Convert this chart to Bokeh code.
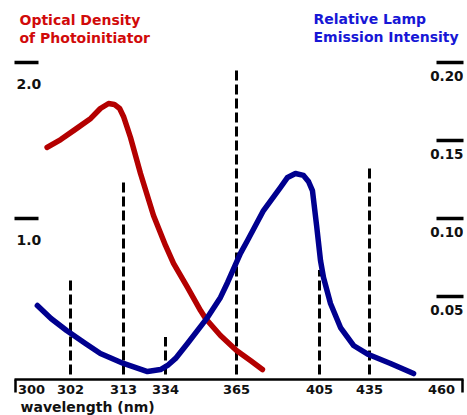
import numpy as np
from bokeh.plotting import figure
from bokeh.models import Range1d, LinearAxis, FixedTicker, Title
from bokeh.core.properties import value
from bokeh.embed import file_html
from bokeh.resources import INLINE

# ---------------- data ----------------
WAVELENGTH_TICKS = [300, 302, 313, 334, 365, 405, 435, 460]
WAVELENGTH_LABELS = ["300", "302", "313", "334", "365", "405", "435", "460"]

# mercury lamp emission lines (relative lamp emission intensity)
LAMP_NM = [302, 313, 334, 365, 405, 435]
LAMP_INTENSITY = [0.062, 0.124, 0.024, 0.195, 0.067, 0.132]

# optical density of the photoinitiator
OD_NM = [300.8, 301.5, 303.0, 306.2, 308.2, 309.9, 311.1, 312.2, 313.0, 315.0, 316.5,
         321.5, 328.0, 334.0, 337.5, 343.6, 349.3, 351.5, 358.0, 365.0, 371.7, 377.5]
OD = [1.455, 1.506, 1.571, 1.641, 1.705, 1.737, 1.731, 1.705, 1.654, 1.577, 1.519,
      1.288, 1.019, 0.827, 0.712, 0.558, 0.410, 0.359, 0.250, 0.154, 0.090, 0.032]

# relative lamp emission intensity (continuous curve)
EMIT_NM = [300.3, 301.0, 301.8, 305.1, 308.2, 313.0, 325.0, 331.5, 334.9, 338.4, 343.6,
           352.3, 358.0, 361.1, 366.9, 370.3, 378.0, 386.2, 389.6, 393.4, 397.3, 399.7,
           401.6, 403.6, 405.6, 407.4, 411.6, 417.6, 425.4, 434.4, 442.3, 450.3]
EMIT = [0.0442, 0.0359, 0.0282, 0.0199, 0.0135, 0.0071, 0.0019, 0.0032, 0.0058, 0.0103, 0.0199,
        0.0365, 0.0494, 0.0590, 0.0776, 0.0859, 0.1051, 0.1199, 0.1263, 0.1288, 0.1276, 0.1237,
        0.1179, 0.0955, 0.0731, 0.0622, 0.0455, 0.0301, 0.0186, 0.0128, 0.0071, 0.0006]

OD_TICKS = [1.0, 2.0]
OD_TICK_LABELS = ["1.0", "2.0"]
LAMP_TICKS = [0.05, 0.10, 0.15, 0.20]
LAMP_TICK_LABELS = ["0.05", "0.10", "0.15", "0.20"]

# ---------------- layout ----------------
# the wavelength axis is drawn non-uniformly: each labelled wavelength has its own axis position
AXIS_POS = [31, 70, 123, 165, 236, 319, 369, 441]


def warp(nm):
    return np.interp(np.asarray(nm, dtype=float), WAVELENGTH_TICKS, AXIS_POS)


FONT = "DejaVu Sans"
RED_TITLE = "#d10a0a"
BLUE_TITLE = "#1717d6"
RED_LINE = "#b40000"
BLUE_LINE = "#00008f"
INK = "#111111"

X0, X1 = 14, 463
p = figure(width=467, height=415,
           x_range=Range1d(X0, X1), y_range=Range1d(-0.032, 2.397),
           output_backend="svg", toolbar_location=None,
           min_border_left=14, min_border_right=4, min_border_top=0, min_border_bottom=36)
p.extra_y_ranges = {"lamp": Range1d(-0.0032, 0.2397)}
p.xgrid.visible = False
p.ygrid.visible = False
p.outline_line_color = None
p.background_fill_color = "white"
p.border_fill_color = "white"

# x axis
xa = p.xaxis[0]
tick_pos = [float(v) for v in warp(WAVELENGTH_TICKS)]
xa.ticker = FixedTicker(ticks=tick_pos, minor_ticks=[X0 + 0.6, X1 - 0.6])
xa.major_label_overrides = {t: lab for t, lab in zip(tick_pos, WAVELENGTH_LABELS)}
xa.major_tick_in = 0
xa.major_tick_out = 0
xa.minor_tick_in = 0
xa.minor_tick_out = 13
xa.minor_tick_line_width = 2.5
xa.minor_tick_line_color = "black"
xa.axis_line_width = 2.5
xa.axis_line_color = "black"
xa.major_label_standoff = -8
xa.major_label_text_font = FONT
xa.major_label_text_font_style = "bold"
xa.major_label_text_font_size = "13px"
xa.major_label_text_color = INK

# axis title, left aligned under the axis
p.add_layout(Title(text="wavelength (nm)", align="left", offset=6, standoff=0,
                   text_font=FONT, text_font_style="bold", text_font_size="14px",
                   text_color=INK), "below")

# left axis: optical density (tick bars only, labels drawn under the bars)
ya = p.yaxis[0]
ya.ticker = FixedTicker(ticks=OD_TICKS)
ya.major_tick_in = 24
ya.major_tick_out = 0
ya.major_tick_line_width = 3.5
ya.major_tick_line_color = "black"
ya.axis_line_color = None
ya.major_label_standoff = 0
ya.major_label_overrides = {t: "" for t in OD_TICKS}

# right axis: relative lamp emission intensity
ra = LinearAxis(y_range_name="lamp", ticker=FixedTicker(ticks=LAMP_TICKS))
ra.major_tick_in = 27
ra.major_tick_out = 0
ra.major_tick_line_width = 3.5
ra.major_tick_line_color = "black"
ra.axis_line_color = None
ra.major_label_standoff = 0
ra.major_label_overrides = {t: "" for t in LAMP_TICKS}
p.add_layout(ra, "right")

# tick labels under the tick bars
p.text(x=[X0 + 2] * len(OD_TICKS), y=OD_TICKS, text=OD_TICK_LABELS,
       text_font=value(FONT), text_font_style="bold", text_font_size="14px",
       text_color=INK, text_align="left", text_baseline="middle", y_offset=22)
p.text(x=[X1] * len(LAMP_TICKS), y=LAMP_TICKS, text=LAMP_TICK_LABELS, y_range_name="lamp",
       text_font=value(FONT), text_font_style="bold", text_font_size="13.5px",
       text_color=INK, text_align="right", text_baseline="middle", y_offset=14)

# lamp emission lines
lx = warp(LAMP_NM)
p.segment(x0=lx, y0=[0] * len(LAMP_NM), x1=lx, y1=LAMP_INTENSITY, y_range_name="lamp",
          line_color="black", line_width=3, line_dash="10 4")

# curves
p.line(warp(OD_NM), OD, line_color=RED_LINE, line_width=5.5, line_cap="round", line_join="round")
p.line(warp(EMIT_NM), EMIT, y_range_name="lamp", line_color=BLUE_LINE, line_width=5.5,
       line_cap="round", line_join="round")

# series titles
p.text(x=[19, 19], y=[2.269, 2.154], text=["Optical Density", "of Photoinitiator"],
       text_font=value(FONT), text_font_style="bold", text_font_size="14px",
       text_color=RED_TITLE, text_align="left", text_baseline="middle")
p.text(x=[313, 313], y=[2.276, 2.160], text=["Relative Lamp", "Emission Intensity"],
       text_font=value(FONT), text_font_style="bold", text_font_size="14px",
       text_color=BLUE_TITLE, text_align="left", text_baseline="middle")

open("out.html", "w").write(file_html(p, INLINE))
